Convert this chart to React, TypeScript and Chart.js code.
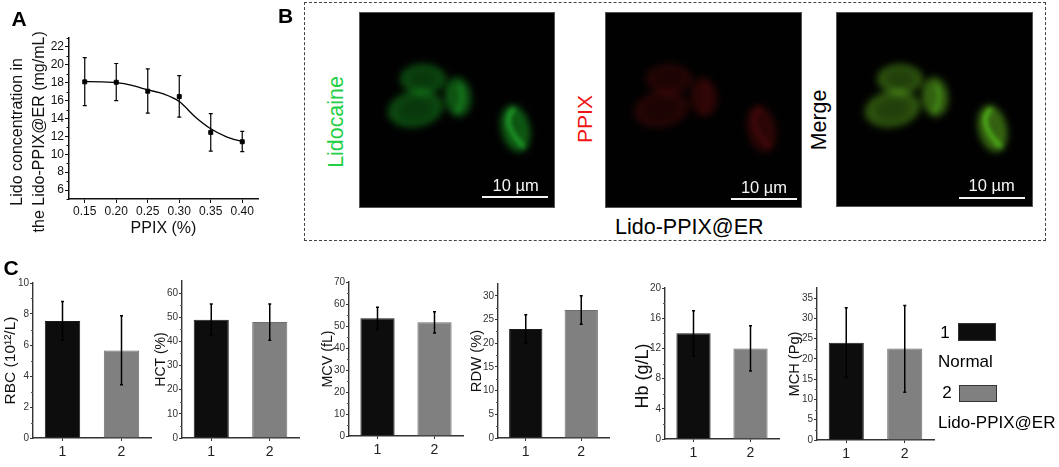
import React, { useEffect, useRef } from "react";
import { Chart, registerables } from "chart.js";

Chart.register(...registerables);

const FONT = '"Liberation Sans", Arial, sans-serif';

// ---- Panel A data
const ppixLevels = [0.15, 0.2, 0.25, 0.3, 0.35, 0.4];
const lidoMeans = [18.1, 18.05, 17.05, 16.45, 12.45, 11.4];
const lidoUpper = [20.8, 20.15, 19.55, 18.8, 14.55, 12.55];
const lidoLower = [15.45, 16.0, 14.6, 14.15, 10.35, 10.3];
const fitX = [0.15, 0.175, 0.2, 0.225, 0.25, 0.275, 0.3, 0.325, 0.35, 0.375, 0.4];
const fitY = [18.13, 18.1, 18.0, 17.7, 17.2, 16.75, 15.9, 14.2, 12.85, 11.95, 11.4];
const lidoYTicks = [6, 8, 10, 12, 14, 16, 18, 20, 22];

// ---- Panel C data
const groups = ["1", "2"];
const rbcValues = [7.55, 5.65];
const rbcUpper = [8.8, 7.88];
const rbcLower = [6.3, 3.43];
const rbcTicks = [0, 2, 4, 6, 8, 10];
const hctValues = [49, 48];
const hctUpper = [55.5, 55.5];
const hctLower = [42.5, 40.5];
const hctTicks = [0, 10, 20, 30, 40, 50, 60];
const mcvValues = [53.5, 51.7];
const mcvUpper = [58.5, 56.5];
const mcvLower = [48.5, 46.8];
const mcvTicks = [0, 10, 20, 30, 40, 50, 60, 70];
const rdwValues = [23, 27];
const rdwUpper = [26, 30];
const rdwLower = [20, 24];
const rdwTicks = [0, 5, 10, 15, 20, 25, 30];
const hbValues = [14, 12];
const hbUpper = [17, 15];
const hbLower = [11, 9];
const hbTicks = [0, 4, 8, 12, 16, 20];
const mchValues = [24, 22.6];
const mchUpper = [32.6, 33.2];
const mchLower = [15.4, 11.8];
const mchTicks = [0, 5, 10, 15, 20, 25, 30, 35];

const NORMAL_COLOR = "#0d0d0d";
const TREATED_COLOR = "#808080";

const nbsp = (n: number) => "\u00a0".repeat(n);

const barPanels = [
  { title: "RBC (10\u00b9\u00b2/L)", size: 15.5, titleX: 11, values: rbcValues, upper: rbcUpper, lower: rbcLower, ticks: rbcTicks, max: 10, l: 33, r: 151, t: 283, b: 438 },
  { title: "HCT (%)", size: 14, titleX: 161, values: hctValues, upper: hctUpper, lower: hctLower, ticks: hctTicks, max: 65, l: 182, r: 299, t: 281, b: 438 },
  { title: "MCV (fL)", size: 14.3, titleX: 328.5, values: mcvValues, upper: mcvUpper, lower: mcvLower, ticks: mcvTicks, max: 70, l: 349, r: 463, t: 282, b: 436 },
  { title: "RDW (%)", size: 14.8, titleX: 476.7, values: rdwValues, upper: rdwUpper, lower: rdwLower, ticks: rdwTicks, max: 32.5, l: 498, r: 609, t: 284, b: 438 },
  { title: "Hb (g/L)" + nbsp(5), size: 18, titleX: 642.7, values: hbValues, upper: hbUpper, lower: hbLower, ticks: hbTicks, max: 20, l: 665, r: 779, t: 288, b: 439 },
  { title: "MCH (Pg)", size: 14.6, titleX: 795, values: mchValues, upper: mchUpper, lower: mchLower, ticks: mchTicks, max: 37.5, l: 817, r: 934, t: 288, b: 440 },
];

// ---- Micrograph description (relative to each 197px square image)
const blobs = [
  { x: 64, y: 67, rx: 23, ry: 15, rot: 0, gain: 0.95, core: 0.72 },
  { x: 56.5, y: 97, rx: 28, ry: 18, rot: -10, gain: 0.95, core: 0.72 },
  { x: 99, y: 85, rx: 13, ry: 19.5, rot: -5, gain: 1.1, core: 0.95 },
  { x: 156.5, y: 116.7, rx: 14, ry: 23.5, rot: -13, gain: 1.2, core: 0.85 },
];
const streaks = [
  { pts: [[101, 74], [106, 88], [98, 100]], gain: 0.55 },
  { pts: [[154.7, 96.7], [140, 110], [165, 135]], gain: 1.2 },
];
const micrographs = [
  { left: 359, top: 12, w: 196, h: 196, body: [12, 80, 16], streak: [22, 85, 28], bar: [482, 548, 197], text: [515.7, 185] },
  { left: 605, top: 12, w: 197, h: 196, body: [40, 4, 4], streak: [26, 3, 3], bar: [731, 797, 199], text: [764, 186.7] },
  { left: 836, top: 12, w: 197, h: 195, body: [48, 92, 14], streak: [32, 95, 12], bar: [959, 1025, 198], text: [991.7, 185.3] },
];

// ---- Plugins
const errorBarsPlugin = {
  id: "errorBars",
  afterDatasetsDraw(chart: any, _args: any, opts: any) {
    if (!opts || !opts.upper) return;
    const { ctx, scales } = chart;
    const meta = chart.getDatasetMeta(opts.dataset ?? 0);
    ctx.save();
    ctx.strokeStyle = "#000";
    ctx.lineWidth = opts.lineWidth ?? 1.3;
    opts.upper.forEach((u: number, i: number) => {
      const x = meta.data[i].x;
      const yu = scales.y.getPixelForValue(u);
      const yl = scales.y.getPixelForValue(opts.lower[i]);
      const c = opts.cap ?? 1.5;
      ctx.beginPath();
      ctx.moveTo(x, yu);
      ctx.lineTo(x, yl);
      ctx.moveTo(x - c, yu);
      ctx.lineTo(x + c, yu);
      ctx.moveTo(x - c, yl);
      ctx.lineTo(x + c, yl);
      ctx.stroke();
    });
    ctx.restore();
  },
};

const minorTicksPlugin = {
  id: "minorTicks",
  afterDraw(chart: any, _args: any, opts: any) {
    if (!opts || !opts.values) return;
    const { ctx, scales } = chart;
    ctx.save();
    ctx.strokeStyle = opts.color ?? "#333";
    ctx.lineWidth = 1;
    const left = scales.y.right;
    opts.values.forEach((v: number) => {
      const y = Math.round(scales.y.getPixelForValue(v)) + 0.5;
      ctx.beginPath();
      ctx.moveTo(left - (opts.length ?? 2), y);
      ctx.lineTo(left, y);
      ctx.stroke();
    });
    ctx.restore();
  },
};

const midpoints = (t: number[]) => t.slice(1).map((v, i) => (v + t[i]) / 2);

function drawMicrograph(canvas: HTMLCanvasElement, m: (typeof micrographs)[number]) {
  const ctx = canvas.getContext("2d");
  if (!ctx) return;
  ctx.fillStyle = "#010101";
  ctx.fillRect(0, 0, m.w, m.h);
  ctx.globalCompositeOperation = "lighter";
  blobs.forEach((b) => {
    const rgb = (k: number) => `rgb(${m.body.map((c) => Math.min(255, Math.round(c * b.gain * k))).join(",")})`;
    ctx.save();
    ctx.filter = "blur(3.5px)";
    ctx.translate(b.x, b.y);
    ctx.rotate((b.rot * Math.PI) / 180);
    ctx.scale(b.rx, b.ry);
    const g = ctx.createRadialGradient(0, 0, 0, 0, 0, 1);
    g.addColorStop(0, rgb(b.core));
    g.addColorStop(0.5, rgb(b.core));
    g.addColorStop(0.85, rgb(1));
    g.addColorStop(1, rgb(1));
    ctx.fillStyle = g;
    ctx.beginPath();
    ctx.arc(0, 0, 1, 0, Math.PI * 2);
    ctx.fill();
    ctx.restore();
  });
  ctx.filter = "blur(2.5px)";
  ctx.lineCap = "round";
  ctx.lineWidth = 3;
  streaks.forEach((s) => {
    ctx.strokeStyle = `rgb(${m.streak.map((c) => Math.round(c * s.gain)).join(",")})`;
    ctx.beginPath();
    ctx.moveTo(s.pts[0][0], s.pts[0][1]);
    ctx.quadraticCurveTo(s.pts[1][0], s.pts[1][1], s.pts[2][0], s.pts[2][1]);
    ctx.stroke();
  });
  ctx.filter = "none";
  ctx.globalCompositeOperation = "source-over";
  ctx.strokeStyle = "#555";
  ctx.lineWidth = 1;
  ctx.strokeRect(0.5, 0.5, m.w - 1, m.h - 1);
}

const ML = 40;
const MT = 10;
const MR = 12;
const MB = 30;

const A = { l: 69, r: 258, t: 38, b: 199, mb: 46 };

function Txt(props: { x: number; y: number; size: number; color?: string; bold?: boolean; rot?: boolean; anchor?: string; children: any }) {
  const { x, y, size, color = "#000", bold, rot, anchor, children } = props;
  return (
    <div
      style={{
        position: "absolute",
        left: x,
        top: y,
        fontFamily: FONT,
        fontSize: size,
        fontWeight: bold ? 700 : 400,
        color,
        lineHeight: 1,
        whiteSpace: "nowrap",
        transform: `translate(${anchor === "left" ? "0" : "-50%"},-50%)${rot ? " rotate(-90deg)" : ""}`,
      }}
    >
      {children}
    </div>
  );
}

export default function App() {
  const aRef = useRef<HTMLCanvasElement | null>(null);
  const barRefs = useRef<(HTMLCanvasElement | null)[]>([]);
  const imgRefs = useRef<(HTMLCanvasElement | null)[]>([]);

  useEffect(() => {
    document.body.style.margin = "0";
    document.body.style.background = "#fff";
    const charts: Chart[] = [];

    const aTitleSize = 16;
    const aLine = 22;
    charts.push(
      new Chart(aRef.current as HTMLCanvasElement, {
        type: "scatter",
        plugins: [errorBarsPlugin, minorTicksPlugin],
        data: {
          datasets: [
            {
              label: "fit",
              data: fitX.map((x, i) => ({ x, y: fitY[i] })),
              showLine: true,
              borderColor: "#000",
              borderWidth: 1.3,
              pointRadius: 0,
              cubicInterpolationMode: "monotone",
            },
            {
              label: "Lido",
              data: ppixLevels.map((x, i) => ({ x, y: lidoMeans[i] })),
              showLine: false,
              pointStyle: "rect",
              pointRadius: 2.8,
              backgroundColor: "#000",
              borderColor: "#000",
            },
          ],
        } as any,
        options: {
          responsive: false,
          maintainAspectRatio: false,
          animation: false,
          layout: { padding: { top: MT, right: MR, left: 0, bottom: 0 } },
          plugins: {
            legend: { display: false },
            tooltip: { enabled: false },
            errorBars: { dataset: 1, upper: lidoUpper, lower: lidoLower, lineWidth: 1.2, cap: 2 },
            minorTicks: { values: [5, ...lidoYTicks.map((v) => v + 1)], color: "#111", length: 2.5 },
          } as any,
          scales: {
            x: {
              type: "linear",
              min: 0.125,
              max: 0.425,
              afterBuildTicks: (s: any) => {
                s.ticks = ppixLevels.map((value) => ({ value }));
              },
              afterFit: (s: any) => {
                s.height = A.mb;
              },
              ticks: {
                callback: (v: any) => Number(v).toFixed(2),
                font: { family: FONT, size: 12 },
                color: "#111",
                padding: 1,
                maxRotation: 0,
              },
              grid: { drawOnChartArea: false, tickLength: 4, color: "#111" },
              border: { color: "#111", width: 1.5 },
              title: {
                display: true,
                text: "PPIX (%)",
                color: "#111",
                font: { family: FONT, size: 16, lineHeight: 1.2 },
                padding: { top: 0, bottom: A.b + A.mb - 229 - 9.6 },
              },
            },
            y: {
              type: "linear",
              min: 5,
              max: 23,
              afterBuildTicks: (s: any) => {
                s.ticks = lidoYTicks.map((value) => ({ value }));
              },
              afterFit: (s: any) => {
                s.width = A.l;
              },
              ticks: { font: { family: FONT, size: 12 }, color: "#111", padding: 1 },
              grid: { drawOnChartArea: false, tickLength: 4, color: "#111" },
              border: { color: "#111", width: 1.5 },
              title: {
                display: true,
                text: ["Lido concentration in" + nbsp(6), "the Lido-PPIX@ER (mg/mL)" + nbsp(6)],
                color: "#111",
                font: { family: FONT, size: aTitleSize, lineHeight: aLine / aTitleSize },
                padding: { top: 17.3 - aLine / 2, bottom: 0 },
              },
            },
          },
        } as any,
      })
    );

    barPanels.forEach((p, i) => {
      const lh = p.size * 1.2;
      charts.push(
        new Chart(barRefs.current[i] as HTMLCanvasElement, {
          type: "bar",
          plugins: [errorBarsPlugin, minorTicksPlugin],
          data: {
            labels: groups,
            datasets: [
              {
                data: p.values,
                backgroundColor: [NORMAL_COLOR, TREATED_COLOR],
                borderColor: ["#1a1a1a", "#6e6e6e"],
                borderWidth: 1,
                barPercentage: 0.6,
                categoryPercentage: 1,
              },
            ],
          },
          options: {
            responsive: false,
            maintainAspectRatio: false,
            animation: false,
            layout: { padding: { top: MT, right: MR, left: 0, bottom: 0 } },
            plugins: {
              legend: { display: false },
              tooltip: { enabled: false },
              errorBars: { dataset: 0, upper: p.upper, lower: p.lower, lineWidth: 1.5, cap: 1.5 },
              minorTicks: { values: midpoints(p.ticks), color: "#555", length: 2 },
            } as any,
            scales: {
              x: {
                afterFit: (s: any) => {
                  s.height = MB;
                },
                ticks: { font: { family: FONT, size: 14 }, color: "#222", padding: 3, maxRotation: 0 },
                grid: { drawOnChartArea: false, tickLength: 3, color: "#333", offset: false },
                border: { color: "#333", width: 1.4 },
              },
              y: {
                min: 0,
                max: p.max,
                afterBuildTicks: (s: any) => {
                  s.ticks = p.ticks.map((value) => ({ value }));
                },
                afterFit: (s: any) => {
                  s.width = ML;
                },
                ticks: { font: { family: FONT, size: 10 }, color: "#333", padding: 1 },
                grid: { drawOnChartArea: false, tickLength: 3, color: "#333" },
                border: { color: "#333", width: 1.4 },
                title: {
                  display: true,
                  text: p.title,
                  color: "#111",
                  font: { family: FONT, size: p.size, lineHeight: 1.2 },
                  padding: { top: p.titleX - (p.l - ML) - lh / 2, bottom: 0 },
                },
              },
            },
          } as any,
        })
      );
    });

    micrographs.forEach((m, i) => {
      const c = imgRefs.current[i];
      if (c) drawMicrograph(c, m);
    });

    return () => charts.forEach((c) => c.destroy());
  }, []);

  return (
    <div style={{ position: "relative", width: 1059, height: 467, overflow: "hidden", background: "#fff" }}>
      {/* Panel A */}
      <canvas
        ref={aRef}
        width={A.l + (A.r - A.l) + MR}
        height={MT + (A.b - A.t) + A.mb}
        style={{ position: "absolute", left: 0, top: A.t - MT }}
      />

      {/* Panel B */}
      <div
        style={{
          position: "absolute",
          left: 304,
          top: 2,
          width: 740,
          height: 237,
          border: "1.5px dashed #444",
        }}
      />
      {micrographs.map((m, i) => (
        <canvas
          key={i}
          ref={(el) => {
            imgRefs.current[i] = el;
          }}
          width={m.w}
          height={m.h}
          style={{ position: "absolute", left: m.left, top: m.top }}
        />
      ))}
      {micrographs.map((m, i) => (
        <React.Fragment key={i}>
          <div
            style={{
              position: "absolute",
              left: m.bar[0],
              top: m.bar[2] - 1,
              width: m.bar[1] - m.bar[0],
              height: 2,
              background: "#f2f2f2",
            }}
          />
          <Txt x={m.text[0]} y={m.text[1]} size={16.5} color="#f5f5f5">
            10 µm
          </Txt>
        </React.Fragment>
      ))}
      <Txt x={337.3} y={121.8} size={21.4} color="#1fcf45" rot>
        Lidocaine
      </Txt>
      <Txt x={584.3} y={118.8} size={21} color="#f01414" rot>
        PPIX
      </Txt>
      <Txt x={819.7} y={119.7} size={21.4} rot>
        Merge
      </Txt>
      <Txt x={689.3} y={227.7} size={21.5}>
        Lido-PPIX@ER
      </Txt>

      {/* Panel C */}
      {barPanels.map((p, i) => (
        <canvas
          key={i}
          ref={(el) => {
            barRefs.current[i] = el;
          }}
          width={ML + (p.r - p.l) + MR}
          height={MT + (p.b - p.t) + MB}
          style={{ position: "absolute", left: p.l - ML, top: p.t - MT }}
        />
      ))}

      {/* Legend */}
      <Txt x={945} y={331.7} size={17}>
        1
      </Txt>
      <div style={{ position: "absolute", left: 958, top: 323, width: 36, height: 16, background: NORMAL_COLOR, border: "1px solid #333" }} />
      <Txt x={938} y={361} size={17} anchor="left">
        Normal
      </Txt>
      <Txt x={947} y={392} size={17}>
        2
      </Txt>
      <div style={{ position: "absolute", left: 959, top: 385, width: 36, height: 15, background: TREATED_COLOR, border: "1px solid #333" }} />
      <Txt x={938} y={422} size={17} anchor="left">
        Lido-PPIX@ER
      </Txt>

      {/* Panel letters */}
      <Txt x={19} y={17.5} size={21} bold>
        A
      </Txt>
      <Txt x={285.5} y={15} size={21} bold>
        B
      </Txt>
      <Txt x={11} y={267} size={21} bold>
        C
      </Txt>
    </div>
  );
}
